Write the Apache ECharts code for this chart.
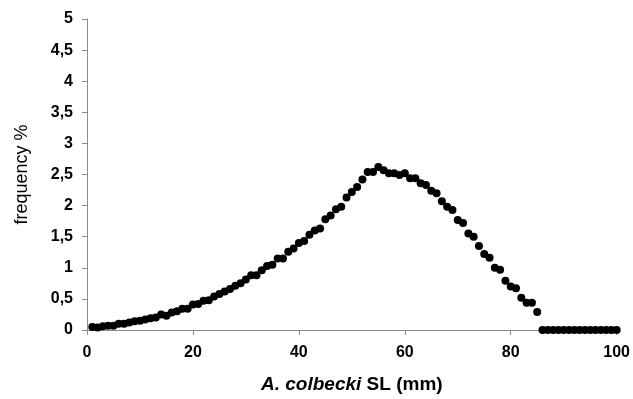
<!DOCTYPE html>
<html>
<head>
<meta charset="utf-8">
<script src="https://cdn.jsdelivr.net/npm/echarts@6/dist/echarts.min.js"></script>
<style>
  html, body { margin: 0; padding: 0; background: #fff; }
  #chart { width: 633px; height: 399px; }
</style>
</head>
<body>
<div id="chart"></div>
<script>
// standard length classes (mm), 1..100
const lengths = Array.from({ length: 100 }, (_, i) => i + 1)

// frequency % per length class
const freq = [
  0.05, 0.04, 0.06, 0.07, 0.07, 0.10, 0.10, 0.12, 0.14, 0.15,
  0.17, 0.19, 0.20, 0.25, 0.23, 0.28, 0.30, 0.34, 0.34, 0.41,
  0.42, 0.47, 0.48, 0.54, 0.58, 0.62, 0.66, 0.71, 0.75, 0.81,
  0.88, 0.88, 0.96, 1.03, 1.05, 1.15, 1.15, 1.26, 1.31, 1.40,
  1.43, 1.53, 1.60, 1.63, 1.78, 1.84, 1.94, 1.98, 2.13, 2.22,
  2.30, 2.42, 2.54, 2.54, 2.62, 2.57, 2.52, 2.52, 2.49, 2.52,
  2.44, 2.44, 2.36, 2.33, 2.24, 2.20, 2.07, 1.98, 1.93, 1.77,
  1.72, 1.55, 1.50, 1.35, 1.22, 1.16, 1.00, 0.97, 0.79, 0.70,
  0.67, 0.52, 0.44, 0.44, 0.29, 0, 0, 0, 0, 0,
  0, 0, 0, 0, 0, 0, 0, 0, 0, 0
]

const chart = echarts.init(document.getElementById('chart'))

const axisLine = { lineStyle: { color: '#8c8c8c', width: 1 } }
const tickLabel = { color: '#000', fontFamily: 'Liberation Sans, Arial', fontWeight: 'bold', fontSize: 16 }

chart.setOption({
  animation: false,
  grid: { left: 87, right: 13, top: 19, bottom: 68 },
  xAxis: {
    type: 'value',
    min: 0,
    max: 100,
    interval: 20,
    axisLine,
    axisTick: { show: true, length: 5, lineStyle: { color: '#8c8c8c' } },
    splitLine: { show: false },
    axisLabel: { ...tickLabel, margin: 15 },
    name: '{i|A. colbecki} SL (mm)',
    nameLocation: 'middle',
    nameGap: 45,
    nameTextStyle: {
      color: '#000',
      fontFamily: 'Liberation Sans, Arial',
      fontWeight: 'bold',
      fontSize: 19,
      rich: {
        i: { fontStyle: 'italic', fontWeight: 'bold', fontSize: 19, fontFamily: 'Liberation Sans, Arial', color: '#000' }
      }
    }
  },
  yAxis: {
    type: 'value',
    min: 0,
    max: 5,
    interval: 0.5,
    axisLine: { show: true, ...axisLine },
    axisTick: { show: true, length: 5, lineStyle: { color: '#8c8c8c' } },
    splitLine: { show: false },
    axisLabel: { ...tickLabel, margin: 14, formatter: v => String(v).replace('.', ',') },
    name: 'frequency %',
    nameLocation: 'middle',
    nameGap: 56,
    nameTextStyle: { color: '#000', fontFamily: 'Liberation Sans, Arial', fontSize: 18 }
  },
  series: [{
    type: 'scatter',
    data: lengths.map((x, i) => [x, freq[i]]),
    symbol: 'circle',
    symbolSize: 8,
    itemStyle: { color: '#000', opacity: 1 }
  }]
})
</script>
</body>
</html>
